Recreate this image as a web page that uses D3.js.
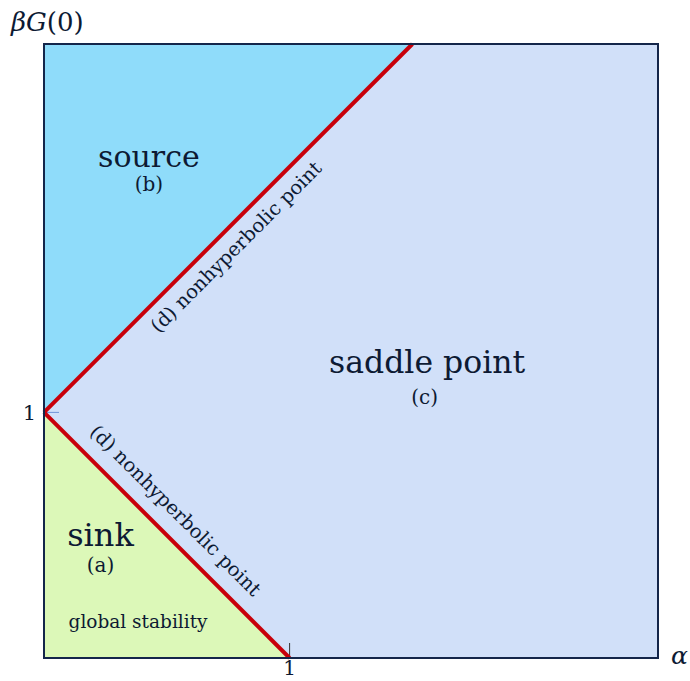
<!DOCTYPE html>
<html>
<head>
<meta charset="utf-8">
<script src="https://cdn.jsdelivr.net/npm/d3@7"></script>
<style>
  body { margin: 0; background: #fff; }
  text { font-family: "DejaVu Serif", "Liberation Serif", serif; fill: #0d1a33; }
</style>
</head>
<body>
<svg width="690" height="681"></svg>
<script>
// regions of the (alpha, beta G(0)) plane
var sinkRegion = [[0, 0], [1, 0], [0, 1]];
var sourceRegion = [[0, 1], [1.5, 2.5], [0, 2.5]];
var saddleRegion = [[1, 0], [2.5, 0], [2.5, 2.5], [1.5, 2.5], [0, 1]];
var upperBoundary = [[0, 1], [1.5, 2.5]];
var lowerBoundary = [[0, 1], [1, 0]];
var xTicks = [1];
var yTicks = [1];

var svg = d3.select("svg"),
    margin = {top: 44, right: 32, bottom: 23, left: 44},
    width = +svg.attr("width") - margin.left - margin.right,
    height = +svg.attr("height") - margin.top - margin.bottom,
    g = svg.append("g").attr("transform", "translate(" + margin.left + "," + margin.top + ")");

var x = d3.scaleLinear().domain([0, 2.5]).range([0, width]);
var y = d3.scaleLinear().domain([0, 2.5]).range([height, 0]);

var area = d3.line()
    .x(function(d) { return x(d[0]); })
    .y(function(d) { return y(d[1]); });

g.append("path").datum(saddleRegion).attr("d", area).attr("fill", "#d1e0f9");
g.append("path").datum(sourceRegion).attr("d", area).attr("fill", "#8fdcfa");
g.append("path").datum(sinkRegion).attr("d", area).attr("fill", "#dcf8b8");

// ticks
g.selectAll(".xt").data(xTicks).enter().append("line")
    .attr("x1", function(d) { return x(d); }).attr("x2", function(d) { return x(d); })
    .attr("y1", height).attr("y2", height - 15)
    .attr("stroke", "#333").attr("stroke-width", 1);
g.selectAll(".yt").data(yTicks).enter().append("line")
    .attr("x1", 0).attr("x2", 15)
    .attr("y1", function(d) { return y(d); }).attr("y2", function(d) { return y(d); })
    .attr("stroke", "#6f93d6").attr("stroke-width", 1);

g.selectAll(".xl").data(xTicks).enter().append("text")
    .attr("x", function(d) { return x(d); }).attr("y", height + 17)
    .attr("text-anchor", "middle").style("font-size", "20px").text(function(d) { return d; });
g.selectAll(".yl").data(yTicks).enter().append("text")
    .attr("x", -8).attr("y", function(d) { return y(d) + 8; })
    .attr("text-anchor", "end").style("font-size", "21px").text(function(d) { return d; });

// boundaries
[upperBoundary, lowerBoundary].forEach(function(b) {
  g.append("path").datum(b).attr("d", area)
      .attr("fill", "none").attr("stroke", "#c8000a").attr("stroke-width", 4);
});

// frame
g.append("rect").attr("width", width).attr("height", height)
    .attr("fill", "none").attr("stroke", "#14264a").attr("stroke-width", 2);

// axis labels
var yLab = svg.append("text").attr("x", 11).attr("y", 31).style("font-size", "26px");
yLab.append("tspan").style("font-style", "italic").text("βG");
yLab.append("tspan").text("(0)");
svg.append("text").attr("x", 671).attr("y", 664).style("font-size", "25px")
    .style("font-style", "italic").text("α");

// region labels
function label(xv, yv, txt, size) {
  g.append("text").attr("x", x(xv)).attr("y", y(yv))
      .attr("text-anchor", "middle").style("font-size", size + "px").text(txt);
}
label(0.427, 2.0, "source", 30);
label(0.427, 1.9, "(b)", 20);
label(1.56, 1.16, "saddle point", 31.5);
label(1.55, 1.035, "(c)", 20);
label(0.23, 0.455, "sink", 32);
label(0.23, 0.35, "(a)", 20);
g.append("text").attr("x", x(0.1)).attr("y", y(0.123))
    .style("font-size", "18.5px").attr("fill", "#1a2a10").text("global stability");

// rotated boundary labels
g.append("text")
    .attr("transform", "translate(" + (x(0.75) + 12.5) + "," + (y(1.75) + 23.5) + ") rotate(-45)")
    .attr("text-anchor", "middle").style("font-size", "19.5px").text("(d) nonhyperbolic point");
g.append("text")
    .attr("transform", "translate(" + (x(0.5) + 4) + "," + (y(0.5) - 20) + ") rotate(45)")
    .attr("text-anchor", "middle").style("font-size", "19.5px").text("(d) nonhyperbolic point");
</script>
</body>
</html>
